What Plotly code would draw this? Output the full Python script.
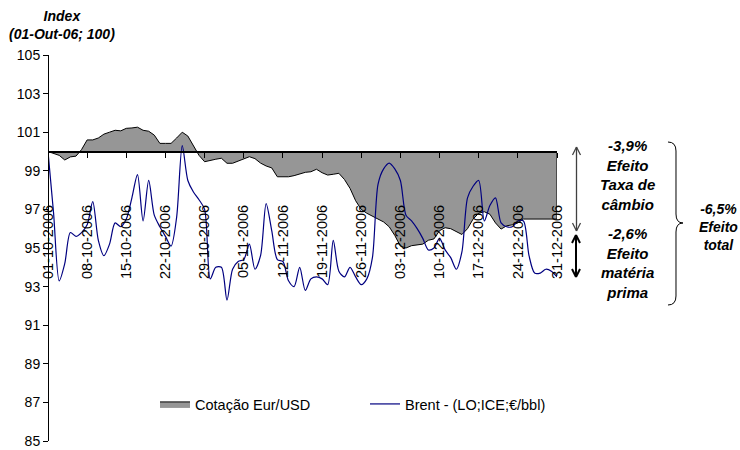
import datetime as dt
import plotly.graph_objects as go

# ---- data ----
start_date = dt.date(2006, 10, 1)
n_days = 92
dates = [(start_date + dt.timedelta(days=i)).isoformat() for i in range(n_days)]

brent = [100.0, 96.8, 93.3, 94.2, 95.8, 95.6, 95.8, 96.2, 97.4, 95.4,
         94.6, 95.2, 96.3, 96.1, 96.5, 97.6, 98.8, 96.4, 98.5, 96.7,
         96.1, 95.6, 95.1, 96.6, 100.3, 98.5, 97.9, 97.5, 97.0, 93.4,
         94.0, 94.0, 92.3, 93.9, 94.3, 94.4, 95.2, 93.9, 94.6, 97.3,
         95.9, 94.4, 94.3, 93.3, 93.0, 94.0, 92.8, 93.4, 93.5, 93.4,
         93.1, 95.4, 93.8, 93.5, 94.0, 93.5, 93.1, 93.4, 94.5, 98.3,
         99.1, 99.4, 99.1, 98.5, 96.7, 96.4, 96.0, 95.5, 94.9, 95.0,
         95.5, 94.9, 94.5, 93.9, 94.8, 97.6, 98.2, 98.5, 96.4, 97.2,
         97.6, 96.3, 96.1, 96.1, 96.4, 96.4, 94.6, 93.7, 93.7, 93.9,
         93.8, 93.5]

eurusd = [100.0, 99.9, 99.8, 99.56, 99.72, 99.76, 100.1, 100.6, 100.6, 100.7,
          100.9, 101.0, 101.1, 101.07, 101.2, 101.22, 101.26, 101.1, 101.05, 100.85,
          100.42, 100.42, 100.42, 100.7, 101.0, 100.8, 100.3, 99.8, 99.47, 99.55,
          99.6, 99.65, 99.39, 99.39, 99.5, 99.6, 99.73, 99.63, 99.4, 99.25,
          99.15, 98.69, 98.69, 98.69, 98.75, 98.85, 98.92, 98.95, 99.08, 98.9,
          98.78, 98.82, 98.87, 98.55, 98.09, 97.45, 97.0, 96.8, 96.65, 96.5,
          96.35, 96.1, 95.65, 95.1, 95.0, 95.12, 95.17, 95.2, 95.4, 95.47,
          95.9, 96.05, 96.0, 95.85, 95.7, 96.0, 96.5, 96.8, 96.88, 96.75,
          96.3, 95.98, 96.15, 96.2, 96.3, 96.5, 96.5, 96.5, 96.5, 96.5,
          96.5, 96.5]

base_level = 100
y_ticks = list(range(85, 106, 2))
series_names = ["Cotação Eur/USD", "Brent - (LO;ICE;€/bbl)"]

# ---- geometry (window pixels; body margin removed by post_script) ----
W, H = 740, 450
PL, PR, PT, PB = 48, 557, 55, 441          # plot area in window pixels
PW, PH = PR - PL, PB - PT
L, T = PL, PT
R, B = W - PR, H - PB


def px(x):
    return (x - PL) / PW


def py(y):
    return (PB - y) / PH


FONT = "Arial, Liberation Sans, sans-serif"

fig = go.Figure()

# area between series and the 100 baseline
fig.add_trace(go.Scatter(
    x=dates + dates[::-1],
    y=eurusd + [base_level] * n_days,
    fill="toself", fillcolor="#969696",
    mode="lines", line=dict(color="black", width=1),
    name=series_names[0], xaxis="x", yaxis="y", legend="legend",
    hoverinfo="skip",
))

fig.add_trace(go.Scatter(
    x=dates, y=brent, mode="lines",
    line=dict(color="#000080", width=1.2, shape="spline", smoothing=0.8),
    name=series_names[1], xaxis="x", yaxis="y", legend="legend2",
))

# invisible trace to activate xaxis2 labels
fig.add_trace(go.Scatter(x=[dates[0]], y=[None], xaxis="x2", yaxis="y",
                         showlegend=False, hoverinfo="skip"))

x_range = [dates[0], dates[-1]]
week_ms = 7 * 24 * 3600 * 1000

legend_common = dict(orientation="h", xanchor="left", yanchor="middle",
                     font=dict(size=14.5), bgcolor="rgba(0,0,0,0)")

fig.update_layout(
    template="none",
    width=W, height=H,
    margin=dict(l=L, r=R, t=T, b=B, pad=0, autoexpand=False),
    paper_bgcolor="white", plot_bgcolor="white",
    font=dict(family=FONT, size=14, color="black"),
    xaxis=dict(
        type="date", range=x_range, anchor="free", position=py(151.5),
        showline=True, linecolor="black", linewidth=2,
        ticks="outside", ticklen=5, tickcolor="black", tickwidth=1,
        tick0=dates[0], dtick=week_ms,
        showticklabels=False, showgrid=False, zeroline=False, automargin=False,
    ),
    xaxis2=dict(
        type="date", range=x_range, overlaying="x", anchor="free",
        position=py(201), showline=False, ticks="",
        tick0=dates[0], dtick=week_ms, tickformat="%d-%m-%Y",
        tickangle=-90, tickfont=dict(size=14.5),
        showgrid=False, zeroline=False, automargin=False,
    ),
    yaxis=dict(
        range=[85, 105], tickvals=y_ticks, anchor="free", position=0,
        showline=True, linecolor="black", linewidth=1,
        ticks="outside", ticklen=5, tickcolor="black",
        showgrid=False, zeroline=False, tickfont=dict(size=14), automargin=False,
    ),
    showlegend=True,
    legend=dict(x=px(155), y=py(404), **legend_common),
    legend2=dict(x=px(365), y=py(404), **legend_common),
)

annots = []
annots.append(dict(
    text="<b><i>Index<br>(01-Out-06; 100)</i></b>", xref="paper", yref="paper",
    x=px(62), y=py(25), xanchor="center", yanchor="middle", showarrow=False,
    font=dict(size=14), align="center"))
annots.append(dict(
    text="<b><i>-3,9%<br>Efeito<br>Taxa de<br>câmbio</i></b>", xref="paper", yref="paper",
    x=px(627), y=py(175), xanchor="center", yanchor="middle", showarrow=False,
    font=dict(size=15), align="center"))
annots.append(dict(
    text="<b><i>-2,6%<br>Efeito<br>matéria<br>prima</i></b>", xref="paper", yref="paper",
    x=px(627), y=py(263), xanchor="center", yanchor="middle", showarrow=False,
    font=dict(size=15), align="center"))
annots.append(dict(
    text="<b><i>-6,5%<br>Efeito<br>total</i></b>", xref="paper", yref="paper",
    x=px(718), y=py(227), xanchor="center", yanchor="middle", showarrow=False,
    font=dict(size=14), align="center"))
fig.update_layout(annotations=annots)


def seg(x0, y0, x1, y1, color, width):
    return dict(type="line", xref="paper", yref="paper",
                x0=px(x0), y0=py(y0), x1=px(x1), y1=py(y1),
                line=dict(color=color, width=width))


shapes = []
# arrow 1 (gray)
ax1, t1, b1 = 576.5, 147, 231
shapes.append(seg(ax1, t1, ax1, b1, "#404040", 1.3))
shapes += [seg(ax1, t1, ax1 - 4, t1 + 8, "#404040", 1.3), seg(ax1, t1, ax1 + 4, t1 + 8, "#404040", 1.3),
           seg(ax1, b1, ax1 - 4, b1 - 8, "#404040", 1.3), seg(ax1, b1, ax1 + 4, b1 - 8, "#404040", 1.3)]
# arrow 2 (black)
ax2, t2, b2 = 576, 235, 277
shapes.append(seg(ax2, t2, ax2, b2, "black", 2))
shapes += [seg(ax2, t2, ax2 - 4, t2 + 8, "black", 2), seg(ax2, t2, ax2 + 4, t2 + 8, "black", 2),
           seg(ax2, b2, ax2 - 4, b2 - 8, "black", 2), seg(ax2, b2, ax2 + 4, b2 - 8, "black", 2)]

# brace
bx, top, bot, mid, tipx = 676, 142, 305, 223, 683
pts = [
    ("M", [(668, top)]),
    ("Q", [(676, top), (bx, top + 9)]),
    ("L", [(bx, mid - 9)]),
    ("Q", [(bx, mid), (tipx, mid)]),
    ("Q", [(bx, mid), (bx, mid + 9)]),
    ("L", [(bx, bot - 9)]),
    ("Q", [(bx, bot), (668, bot)]),
]
path = ""
for cmd, ps in pts:
    path += cmd + " " + " ".join(f"{px(a):.5f},{py(b):.5f}" for a, b in ps) + " "
shapes.append(dict(type="path", xref="paper", yref="paper", path=path.strip(),
                   line=dict(color="black", width=1)))
fig.update_layout(shapes=shapes)

fig.write_html(
    "out.html",
    config={"displayModeBar": False},
    post_script="document.documentElement.style.overflow='hidden';"
                "document.body.style.margin='0';document.body.style.overflow='hidden';",
)
